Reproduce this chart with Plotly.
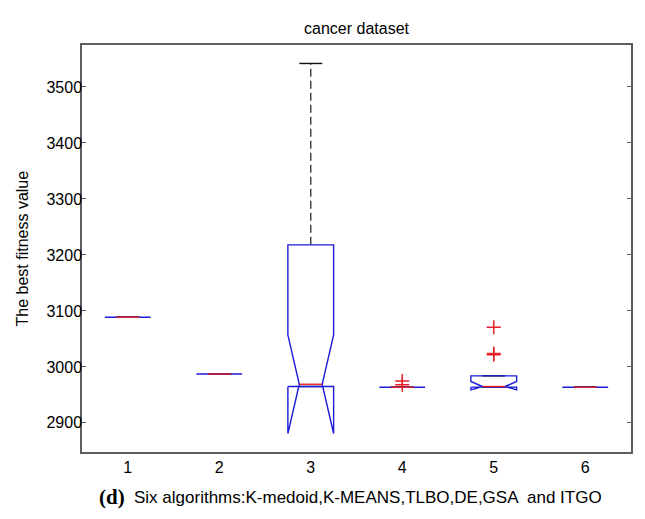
import plotly.graph_objects as go

# ---- data ----
algorithms = ["K-medoid", "K-MEANS", "TLBO", "DE", "GSA", "ITGO"]
positions = [1, 2, 3, 4, 5, 6]
tick_labels = ["1", "2", "3", "4", "5", "6"]
y_ticks = [2900, 3000, 3100, 3200, 3300, 3400, 3500]
q1 = [3088.7, 2987.3, 2965.0, 2963.7, 2963.8, 2963.7]
median = [3088.7, 2987.3, 2969.0, 2963.7, 2965.0, 2963.7]
q3 = [3088.7, 2987.3, 3218.0, 2963.7, 2984.0, 2963.7]
whisker_low = [3088.7, 2987.3, 2965.0, 2963.7, 2963.7, 2963.7]
whisker_high = [3088.7, 2987.3, 3542.0, 2963.7, 2984.0, 2963.7]
notch_low = [3088.7, 2987.3, 2881.0, 2963.7, 2959.0, 2963.7]
notch_high = [3088.7, 2987.3, 3057.0, 2963.7, 2974.0, 2963.7]
outlier_pos = [4, 4, 5, 5, 5]
outlier_val = [2975.0, 2968.0, 3071.0, 3024.0, 3021.5]

# ---- style ----
W = 0.25           # half box width
BLUE = "#1c1cd8"
RED = "#e8202a"
WHISK = "#3c3c3c"
AXIS = "#5e5e5e"
FONT = "Liberation Sans"

bx, by = [], []
mx, my = [], []
wx, wy = [], []
cx, cy = [], []
for p, a, m, b, lo, hi, nl, nh in zip(positions, q1, median, q3, whisker_low,
                                      whisker_high, notch_low, notch_high):
    bx += [p - W, p - W, p - W / 2, p - W, p - W, p + W, p + W, p + W / 2, p + W, p + W, p - W, None]
    by += [a, nl, m, nh, b, b, nh, m, nl, a, a, None]
    mx += [p - W / 2, p + W / 2, None]
    my += [m, m, None]
    wx += [p, p, None, p, p, None]
    wy += [b, hi, None, a, lo, None]
    cx += [p - W / 2, p + W / 2, None, p - W / 2, p + W / 2, None]
    cy += [hi, hi, None, lo, lo, None]

fig = go.Figure()
fig.add_trace(go.Scatter(x=wx, y=wy, mode="lines", line=dict(color=WHISK, width=1.4, dash="8px,4px"),
                         hoverinfo="skip", showlegend=False))
fig.add_trace(go.Scatter(x=cx, y=cy, mode="lines", line=dict(color="#111111", width=1.4),
                         hoverinfo="skip", showlegend=False))
fig.add_trace(go.Scatter(x=bx, y=by, mode="lines", line=dict(color=BLUE, width=1.4),
                         hoverinfo="skip", showlegend=False))
fig.add_trace(go.Scatter(x=mx, y=my, mode="lines", line=dict(color=RED, width=1.4),
                         hoverinfo="skip", showlegend=False))
fig.add_trace(go.Scatter(x=outlier_pos, y=outlier_val, mode="markers",
                         marker=dict(symbol="cross-thin", size=10, line=dict(color=RED, width=1.5)),
                         hoverinfo="skip", showlegend=False))

# page body has an 8px margin, so the figure is laid out 8px smaller
FW, FH = 637, 511
L, T, R, B = 74, 37, 14, 67
PW, PH = FW - L - R, FH - T - B

fig.update_layout(
    width=FW, height=FH,
    margin=dict(l=L, r=R, t=T, b=B),
    paper_bgcolor="white", plot_bgcolor="white",
    font=dict(family=FONT, size=14, color="black"),
    title=dict(text="cancer dataset", x=(L + PW / 2) / FW, xanchor="center",
               y=1 - 20 / FH, yanchor="middle", font=dict(family=FONT, size=16)),
    showlegend=False,
)
fig.update_xaxes(range=[0.5, 6.5], tickmode="array", tickvals=positions, ticktext=tick_labels,
                 showgrid=False, zeroline=False, showline=True, mirror=True,
                 linecolor=AXIS, linewidth=1.5, ticks="", tickfont=dict(size=16),
                 automargin=False)
fig.update_yaxes(range=[2848, 3575], tickmode="array", tickvals=y_ticks,
                 showgrid=False, zeroline=False, showline=True, mirror="ticks",
                 linecolor=AXIS, linewidth=1.5, ticks="inside", ticklen=4,
                 tickcolor=AXIS, tickfont=dict(size=16), ticklabelstandoff=-5,
                 automargin=False)

fig.add_annotation(text="The best fitness value", textangle=-90, xref="paper", yref="paper",
                   x=(14 - L) / PW, y=0.5, xanchor="center", yanchor="middle",
                   showarrow=False, font=dict(family=FONT, size=16))
fig.add_annotation(text="<b>(d)</b>", xref="paper", yref="paper",
                   x=(89 - L) / PW, y=-(45) / PH, xanchor="left", yanchor="middle",
                   showarrow=False, font=dict(family="Liberation Serif", size=21))
fig.add_annotation(text="Six algorithms:K-medoid,K-MEANS,TLBO,DE,GSA  and ITGO", xref="paper", yref="paper",
                   x=(124 - L) / PW, y=-(45) / PH, xanchor="left", yanchor="middle",
                   showarrow=False, font=dict(family=FONT, size=17))

fig.write_html("out.html")
